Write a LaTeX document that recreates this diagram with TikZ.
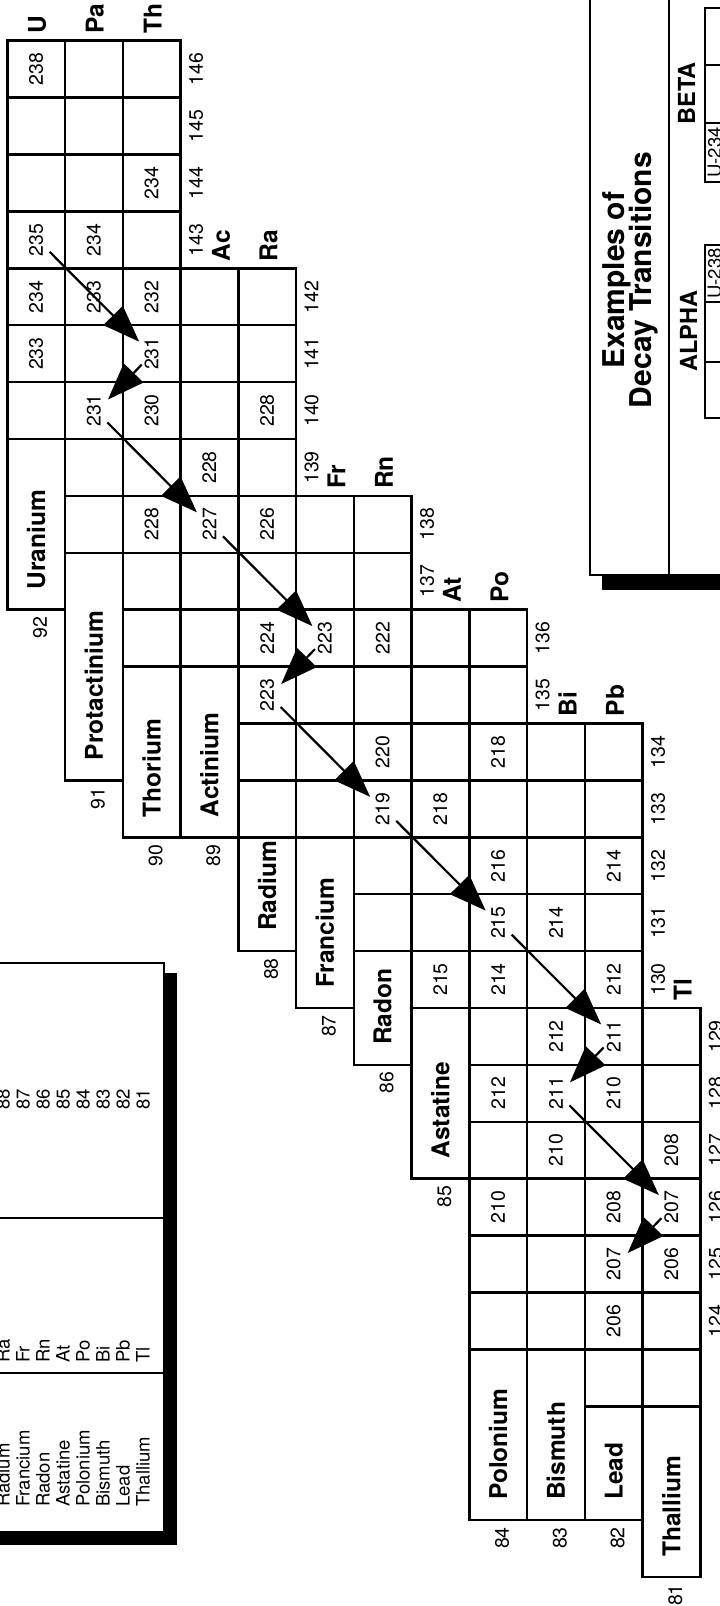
\documentclass[tikz,border=0pt]{standalone}
\usepackage{fontspec}
\setmainfont{TeX Gyre Heros}
\usetikzlibrary{arrows.meta,calc}
\begin{document}
\begin{tikzpicture}[x=1pt,y=-1pt,
  gridline/.style={line width=2.5pt},
  num/.style={rotate=90,inner sep=0pt,font=\fontsize{19.5}{21}\selectfont},
  sym/.style={rotate=90,inner sep=0pt,anchor=west,font=\bfseries\fontsize{24.5}{26}\selectfont},
  ename/.style={rotate=90,inner sep=0pt,anchor=west,font=\bfseries\fontsize{24.5}{26}\selectfont},
  tab/.style={rotate=90,inner sep=0pt,anchor=base west,font=\fontsize{18.5}{20}\selectfont},
  ttl/.style={rotate=90,inner sep=0pt,anchor=base,font=\bfseries\fontsize{30}{32}\selectfont},
  hdr/.style={rotate=90,inner sep=0pt,anchor=base,font=\bfseries\fontsize{23.5}{25}\selectfont},
  thin/.style={line width=1.4pt},
  decay/.style={line width=2.2pt,-{Triangle[length=37pt,width=27pt]}}]
\useasboundingbox (0,0) rectangle (720,1606);
\clip (0,0) rectangle (720,1606);
\fill[white] (0,0) rectangle (720,1606);
% ---- grid cells
\foreach \c/\a/\b in {0/0/6,1/0/8,2/0/10,3/4/10,4/4/13,5/8/13,6/8/15,7/10/16,8/10/22,9/12/22,10/12/23,11/17/23}{
  \foreach \r in {\a,...,\b}{
    \draw[gridline] ({7.3+57.75*\c},{40.7+56.9*\r}) rectangle ({7.3+57.75*(\c+1)},{40.7+56.9*(\r+1)});
  }
}
% ---- element name boxes and atomic numbers
\foreach \c/\a/\b/\nm/\z in {0/7/10/Uranium/92,1/9/13/Protactinium/91,2/11/14/Thorium/90,3/11/14/Actinium/89,4/14/16/Radium/88,5/14/17/Francium/87,6/16/18/Radon/86,7/17/20/Astatine/85,8/23/26/Polonium/84,9/23/26/Bismuth/83,10/24/26/Lead/82,11/24/27/Thallium/81}{
  \draw[gridline] ({7.3+57.75*\c},{40.7+56.9*\a}) rectangle ({7.3+57.75*(\c+1)},{40.7+56.9*\b});
  \node[ename] (e\z) at ({7.3+57.75*(\c+0.5)},{40.7+56.9*\b-20}) {\nm};
  \node[num] (z\z) at ({7.3+57.75*(\c+0.5)+4},{40.7+56.9*\b+18}) {\z};
}
% ---- mass numbers in cells
\foreach \c/\r/\m in {0/0/238,0/3/235,0/4/234,0/5/233,1/3/234,1/4/233,1/6/231,2/2/234,2/4/232,2/5/231,2/6/230,2/8/228,3/7/228,3/8/227,4/6/228,4/8/226,4/10/224,4/11/223,5/10/223,6/10/222,6/12/220,6/13/219,7/13/218,7/16/215,8/12/218,8/14/216,8/15/215,8/16/214,8/18/212,8/20/210,9/15/214,9/17/212,9/18/211,9/19/210,10/14/214,10/16/212,10/17/211,10/18/210,10/20/208,10/21/207,10/22/206,11/19/208,11/20/207,11/21/206}{
  \node[num] (m\c-\r) at ({7.3+57.75*(\c+0.5)},{40.7+56.9*(\r+0.5)}) {\m};
}
% ---- neutron number labels
\foreach \r/\e in {0/3,1/3,2/3,3/3,4/5,5/5,6/5,7/5,8/7,9/7,10/9,11/9,12/11,13/11,14/11,15/11,16/11,17/12,18/12,19/12,20/12,21/12,22/12}{
  \pgfmathtruncatemacro\N{146-\r}
  \node[num] (nl\N) at ({7.3+57.75*\e+15.5},{40.7+56.9*(\r+0.5)}) {\N};
}
% ---- element symbols
\node[sym] (sU)  at (37.2,34) {U};
\node[sym] (sPa) at (94.9,34) {Pa};
\node[sym] (sTh) at (152.7,34) {Th};
\node[sym] (sAc) at (221,261.5) {Ac};
\node[sym] (sRa) at (268.6,261.5) {Ra};
\node[sym] (sFr) at (336.5,489) {Fr};
\node[sym] (sRn) at (384,489) {Rn};
\node[sym] (sAt) at (452,603) {At};
\node[sym] (sPo) at (499.6,603) {Po};
\node[sym] (sBi) at (567.5,716.5) {Bi};
\node[sym] (sPb) at (615,716.5) {Pb};
\node[sym] (sTl) at (682.6,1001) {Tl};
% ---- decay arrows
\draw[decay] ($(m0-3)+(13.5,12)$) -- ($(m2-5)+(-12.5,-12)$);
\draw[decay] ($(m2-5)+(-10,11)$) -- ($(m1-6)+(14,-11)$);
\draw[decay] ($(m1-6)+(13.5,12)$) -- ($(m3-8)+(-12.5,-12)$);
\draw[decay] ($(m3-8)+(13.5,12)$) -- ($(m5-10)+(-12.5,-12)$);
\draw[decay] ($(m5-10)+(-10,11)$) -- ($(m4-11)+(14,-11)$);
\draw[decay] ($(m4-11)+(13.5,12)$) -- ($(m6-13)+(-12.5,-12)$);
\draw[decay] ($(m6-13)+(13.5,12)$) -- ($(m8-15)+(-12.5,-12)$);
\draw[decay] ($(m8-15)+(13.5,12)$) -- ($(m10-17)+(-12.5,-12)$);
\draw[decay] ($(m10-17)+(-10,11)$) -- ($(m9-18)+(14,-11)$);
\draw[decay] ($(m9-18)+(13.5,12)$) -- ($(m11-20)+(-12.5,-12)$);
\draw[decay] ($(m11-20)+(-10,11)$) -- ($(m10-21)+(14,-11)$);
% ---- left table
\fill[black] (-10,973) rectangle (177,1545);
\draw[thin,fill=white] (-10,963) rectangle (164,1532);
\draw[thin] (-10,1218) -- (164,1218);
\draw[thin] (-10,1373) -- (164,1373);
\foreach \k/\nm/\sy/\z in {0/Thallium/Tl/81,1/Lead/Pb/82,2/Bismuth/Bi/83,3/Polonium/Po/84,4/Astatine/At/85,5/Radon/Rn/86,6/Francium/Fr/87,7/Radium/Ra/88}{
  \node[tab] (tn\k) at ({149.5-20*\k},1507) {\nm};
  \node[tab] (ts\k) at ({149.5-20*\k},1363) {\sy};
  \node[tab] (tz\k) at ({149.5-20*\k},1110) {\z};
}
% ---- right box
\fill[black] (602,575) rectangle (730,590);
\draw[line width=2.6pt] (590,-10) -- (590,575) -- (730,575);
\draw[line width=1.6pt] (669,-10) -- (669,575);
\node[ttl] (t1) at (624.5,280) {Examples of};
\node[ttl] (t2) at (651.5,280) {Decay Transitions};
\node[hdr] (ha) at (697,331) {ALPHA};
\node[hdr] (hb) at (695,93.5) {BETA};
\draw[thin] (730,8) -- (705,8) -- (705,182) -- (730,182);
\draw[thin] (705,65) -- (730,65);
\draw[thin] (705,123) -- (730,123);
\draw[thin] (730,245) -- (705,245) -- (705,418) -- (730,418);
\draw[thin] (705,302) -- (730,302);
\draw[thin] (705,362) -- (730,362);
\node[tab,anchor=base] (ua) at (721,273.5) {U-238};
\node[tab,anchor=base] (ub) at (721,152.5) {U-234};
\end{tikzpicture}
\end{document}
